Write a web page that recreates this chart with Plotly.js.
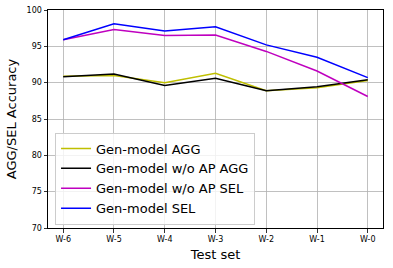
<!DOCTYPE html>
<html><head><meta charset="utf-8">
<script src="https://cdn.plot.ly/plotly-3.0.1.min.js"></script>
<style>html,body{margin:0;padding:0;background:#fff;}#chart{width:393px;height:268px;}</style>
</head><body><div id="chart"></div>
<script>
const testSets = ["W-6","W-5","W-4","W-3","W-2","W-1","W-0"];
const genAGG      = [90.9, 91.0, 90.0, 91.3, 88.9, 89.3, 90.3];
const genNoApAGG  = [90.8, 91.2, 89.6, 90.6, 88.9, 89.45, 90.4];
const genNoApSEL  = [95.9, 97.3, 96.5, 96.55, 94.3, 91.6, 88.1];
const genSEL      = [95.9, 98.1, 97.1, 97.7, 95.2, 93.5, 90.7];
const seriesNames = ["Gen-model AGG","Gen-model w/o AP AGG","Gen-model w/o AP SEL","Gen-model SEL"];
const seriesColors = ["#bfbf00","#000000","#bf00bf","#0000ff"];
const yTicks = [70,75,80,85,90,95,100];

const xIdx = testSets.map((_, i) => i);
const all = [genAGG, genNoApAGG, genNoApSEL, genSEL];
const traces = all.map((vals, k) => ({
  x: xIdx, y: vals, type: 'scatter', mode: 'lines', name: seriesNames[k],
  line: {color: seriesColors[k], width: 1.5}
}));

const font = "DejaVu Sans, sans-serif";
const layout = {
  width: 393, height: 268,
  margin: {l: 48, r: 10, t: 10, b: 39.5, pad: 0},
  paper_bgcolor: '#fff', plot_bgcolor: '#fff',
  font: {family: font, color: '#000'},
  showlegend: true,
  legend: {
    x: 0.021, y: 0.016, xanchor: 'left', yanchor: 'bottom',
    bgcolor: 'rgba(255,255,255,0.8)', bordercolor: '#cccccc', borderwidth: 1,
    font: {family: font, size: 13, color: '#000'},
    tracegroupgap: 0
  },
  xaxis: {
    range: [-0.3, 6.3], tickmode: 'array', tickvals: xIdx, ticktext: testSets,
    showgrid: true, gridcolor: '#b0b0b0', gridwidth: 0.8,
    showline: true, linecolor: '#000', linewidth: 1, mirror: true,
    ticks: 'outside', ticklen: 3.5, tickcolor: '#000', tickwidth: 0.8,
    tickfont: {family: font, size: 8, color: '#000'},
    zeroline: false,
    title: {text: 'Test set', font: {family: font, size: 13, color: '#000'}, standoff: 6}
  },
  yaxis: {
    range: [70, 100], tickmode: 'array', tickvals: yTicks,
    showgrid: true, gridcolor: '#b0b0b0', gridwidth: 0.8,
    showline: true, linecolor: '#000', linewidth: 1, mirror: true,
    ticks: 'outside', ticklen: 3.5, tickcolor: '#000', tickwidth: 0.8,
    tickfont: {family: font, size: 8, color: '#000'},
    zeroline: false,
    title: {text: 'AGG/SEL Accuracy', font: {family: font, size: 13, color: '#000'}, standoff: 7}
  }
};
Plotly.newPlot('chart', traces, layout, {displayModeBar: false, staticPlot: true});
</script></body></html>
